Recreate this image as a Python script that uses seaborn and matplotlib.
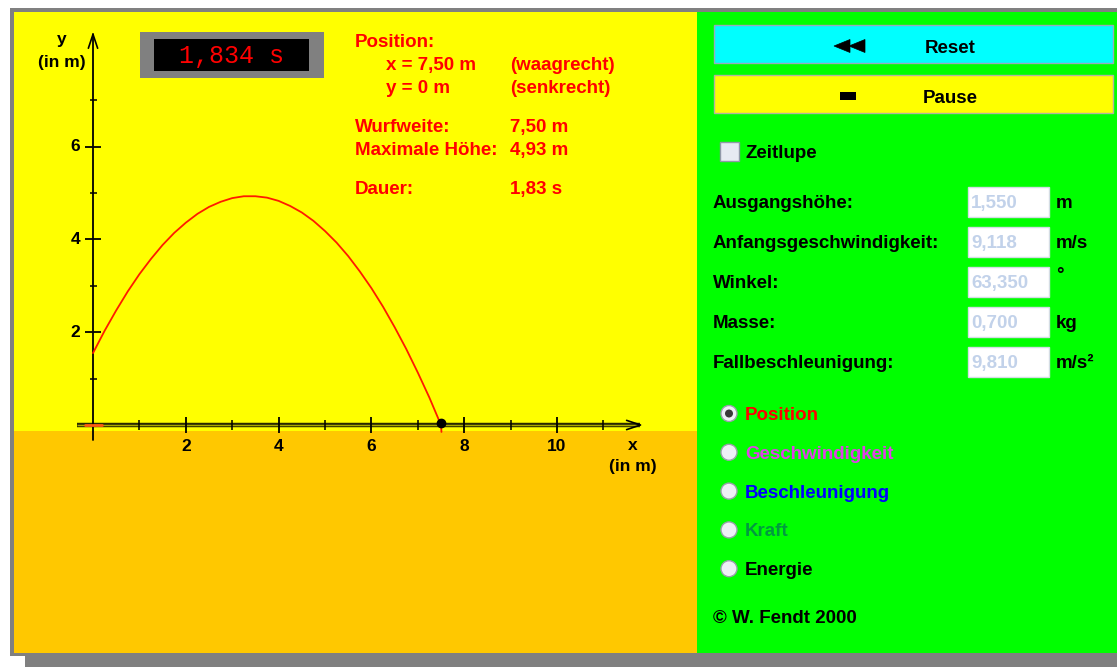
import matplotlib
matplotlib.use("Agg")
import matplotlib.pyplot as plt
import seaborn as sns
import pandas as pd
from matplotlib.patches import Rectangle, Circle, Polygon

# ---------------- data ----------------
traj_x = [0.0, 0.25, 0.5, 0.75, 1.0, 1.25, 1.5, 1.75, 2.0, 2.25, 2.5, 2.75, 3.0,
          3.25, 3.5, 3.75, 4.0, 4.25, 4.5, 4.75, 5.0, 5.25, 5.5, 5.75, 6.0, 6.25,
          6.5, 6.75, 7.0, 7.25, 7.5]
traj_y = [1.55, 2.03, 2.47, 2.88, 3.25, 3.58, 3.88, 4.14, 4.36, 4.55, 4.70, 4.81,
          4.89, 4.93, 4.93, 4.90, 4.83, 4.72, 4.58, 4.40, 4.18, 3.93, 3.64, 3.31,
          2.95, 2.55, 2.11, 1.64, 1.13, 0.59, 0.0]
ball_x = [7.5]
ball_y = [0.0]
x_major = [2, 4, 6, 8, 10]
x_minor = [1, 3, 5, 7, 9, 11]
y_major = [2, 4, 6]
y_minor = [1, 3, 5, 7]
timer_text = "1,834 s"
info_left = ["Position:", "x = 7,50 m", "y = 0 m", "Wurfweite:", "Maximale Höhe:", "Dauer:"]
info_right = ["", "(waagrecht)", "(senkrecht)", "7,50 m", "4,93 m", "1,83 s"]
param_labels = ["Ausgangshöhe:", "Anfangsgeschwindigkeit:", "Winkel:", "Masse:", "Fallbeschleunigung:"]
param_values = ["1,550", "9,118", "63,350", "0,700", "9,810"]
param_units = ["m", "m/s", "°", "kg", "m/s²"]
radio_labels = ["Position", "Geschwindigkeit", "Beschleunigung", "Kraft", "Energie"]
radio_colors = ["#ff0000", "#e040e8", "#0000ff", "#009a40", "#000000"]
copyright_text = "© W. Fendt 2000"

# ---------------- setup ----------------
sns.set_theme(style="white")
plt.rcParams['font.family'] = ['Liberation Sans', 'DejaVu Sans']
FS = 13.5

W, H = 1117, 667
fig = plt.figure(figsize=(W / 100, H / 100), dpi=100)
fig.patch.set_facecolor('white')

bg = fig.add_axes([0, 0, 1, 1])
bg.set_xlim(0, W)
bg.set_ylim(H, 0)
bg.axis('off')
bg.set_zorder(1)

GRAY = '#808080'
# frame and shadow
bg.add_patch(Rectangle((10, 8), W - 10, 648, facecolor=GRAY, edgecolor='none'))
bg.add_patch(Rectangle((25, 656), W - 25, 11, facecolor=GRAY, edgecolor='none'))
# sky / ground / control panel
bg.add_patch(Rectangle((14, 12), 683, 418.7, facecolor='#ffff00', edgecolor='none'))
bg.add_patch(Rectangle((14, 430.7), 683, 222.3, facecolor='#ffc800', edgecolor='none'))
bg.add_patch(Rectangle((697, 12), W - 697, 641, facecolor='#00ff00', edgecolor='none'))

# stopwatch
bg.add_patch(Rectangle((140, 32), 184, 46, facecolor=GRAY, edgecolor='none'))
bg.add_patch(Rectangle((154, 39), 155, 32, facecolor='black', edgecolor='none'))
bg.text(231.5, 56, timer_text, color='#ff0000', fontsize=18, family='Liberation Mono',
        ha='center', va='center')

# red info text
red = '#ff0000'
info_base = [47, 70, 93, 132, 155, 194]
info_xl = [355, 386, 386, 355, 355, 355]
for t, xl, yb in zip(info_left, info_xl, info_base):
    bg.text(xl, yb, t, color=red, fontsize=FS, fontweight='bold', ha='left', va='baseline')
for t, yb in zip(info_right, info_base):
    if t:
        bg.text(510, yb, t, color=red, fontsize=FS, fontweight='bold', ha='left', va='baseline')

# buttons
bg.add_patch(Rectangle((714, 25), 399, 38, facecolor='#00ffff', edgecolor='#98acbc', lw=1))
bg.add_patch(Polygon([(834, 46), (850, 39.5), (850, 52.5)], closed=True,
                     facecolor='black', edgecolor='black', lw=0.5))
bg.add_patch(Polygon([(849, 46), (865, 39.5), (865, 52.5)], closed=True,
                     facecolor='black', edgecolor='black', lw=0.5))
bg.text(950, 53, "Reset", fontsize=FS, fontweight='bold', ha='center', va='baseline', color='black')
bg.add_patch(Rectangle((714, 75), 399, 38, facecolor='#ffff00', edgecolor='#b4b4a0', lw=1))
bg.add_patch(Rectangle((840, 91.5), 16, 8, facecolor='black', edgecolor='none'))
bg.text(950, 103, "Pause", fontsize=FS, fontweight='bold', ha='center', va='baseline', color='black')

# checkbox
bg.add_patch(Rectangle((720, 142), 19, 19, facecolor='#e6eaf2', edgecolor='#9098a8', lw=1))
bg.text(745, 158, "Zeitlupe", fontsize=FS, fontweight='bold', ha='left', va='baseline', color='black')

# parameter rows
for i, (lab, val, unit) in enumerate(zip(param_labels, param_values, param_units)):
    yc = 201.5 + 40 * i
    bg.text(713, yc + 6.5, lab, fontsize=FS, fontweight='bold', ha='left', va='baseline', color='black')
    bg.add_patch(Rectangle((968, yc - 15), 81, 30, facecolor='white', edgecolor='#d4dce4', lw=1))
    bg.text(971, yc + 6.5, val, fontsize=FS, fontweight='bold', ha='left', va='baseline', color='#c2d2ea')
    bg.text(1056, yc + 6.5 - (8 if unit == "°" else 0), unit, fontsize=FS, fontweight='bold',
            ha='left', va='baseline', color='black')

# radio buttons
for i, (lab, col) in enumerate(zip(radio_labels, radio_colors)):
    yc = 413.5 + 38.8 * i
    bg.add_patch(Circle((729, yc), 8, facecolor='#eef0f6', edgecolor='#9aa0aa', lw=1))
    if i == 0:
        bg.add_patch(Circle((729, yc), 4, facecolor='#3a3a3a', edgecolor='none'))
    bg.text(745, yc + 6.5, lab, fontsize=FS, fontweight='bold', ha='left', va='baseline', color=col)

bg.text(713, 623, copyright_text, fontsize=FS, fontweight='bold', ha='left', va='baseline', color='black')

# ---------------- data axes ----------------
S = 46.4
X0, Y0 = 93, 425
L, R, T, B = 14, 697, 12, 653
ax = fig.add_axes([L / W, (H - B) / H, (R - L) / W, (B - T) / H])
ax.set_zorder(2)
ax.patch.set_alpha(0)
ax.set_xlim((L - X0) / S, (R - X0) / S)
ax.set_ylim((Y0 - B) / S, (Y0 - T) / S)
for sp in ax.spines.values():
    sp.set_visible(False)
ax.set_xticks([])
ax.set_yticks([])

# x axis (double line look)
ax.plot([-0.34, 11.78], [0, 0], color='#2a2a00', lw=3.2, solid_capstyle='butt', zorder=2)
ax.plot([-0.34, 11.78], [0, 0], color='#a8a800', lw=1.0, solid_capstyle='butt', zorder=3)
ax.plot([11.50, 11.80, 11.50], [0.10, 0.0, -0.10], color='black', lw=1.2, zorder=3)
# y axis
ax.plot([0, 0], [-0.33, 8.42], color='black', lw=1.3, zorder=3)
ax.plot([-0.10, 0.0, 0.10], [8.12, 8.42, 8.12], color='black', lw=1.2, zorder=3)

big, small = 8 / S, 3.5 / S
ax.vlines(x_major, -big, big, color='black', lw=1.3, zorder=3)
ax.vlines(x_minor, -small - 0.03, small + 0.03, color='black', lw=1.1, zorder=3)
ax.hlines(y_major, -big, big, color='black', lw=1.3, zorder=3)
ax.hlines(y_minor, -small, small, color='black', lw=1.1, zorder=3)

for v in x_major:
    ax.text(v, -0.47, str(v), fontsize=12.5, fontweight='bold', ha='center', va='center', color='black')
for v in y_major:
    ax.text(-0.27, v, str(v), fontsize=12.5, fontweight='bold', ha='right', va='center', color='black')

ax.text((633 - X0) / S, -0.44, "x", fontsize=12.5, fontweight='bold', ha='center', va='center', color='black')
ax.text((633 - X0) / S, -0.89, "(in m)", fontsize=12.5, fontweight='bold', ha='center', va='center', color='black')
ax.text((62 - X0) / S, 8.31, "y", fontsize=12.5, fontweight='bold', ha='center', va='center', color='black')
ax.text((62 - X0) / S, 7.81, "(in m)", fontsize=12.5, fontweight='bold', ha='center', va='center', color='black')

# trajectory
df = pd.DataFrame({"x": traj_x, "y": traj_y})
sns.lineplot(data=df, x="x", y="y", ax=ax, color='#ff1a00', lw=1.3, zorder=4)
ax.plot([traj_x[-1], traj_x[-1] + 0.01], [0, -0.15], color='#ff1a00', lw=1.3, zorder=4)
ax.plot([-0.17, 0.19], [0, 0], color='#ff5a10', lw=2, zorder=4)
ax.plot(ball_x, [b + 0.05 for b in ball_y], 'o', color='black', ms=6, zorder=5)
ax.set_xlabel("")
ax.set_ylabel("")

fig.savefig("out.png", dpi=100, facecolor='white')
